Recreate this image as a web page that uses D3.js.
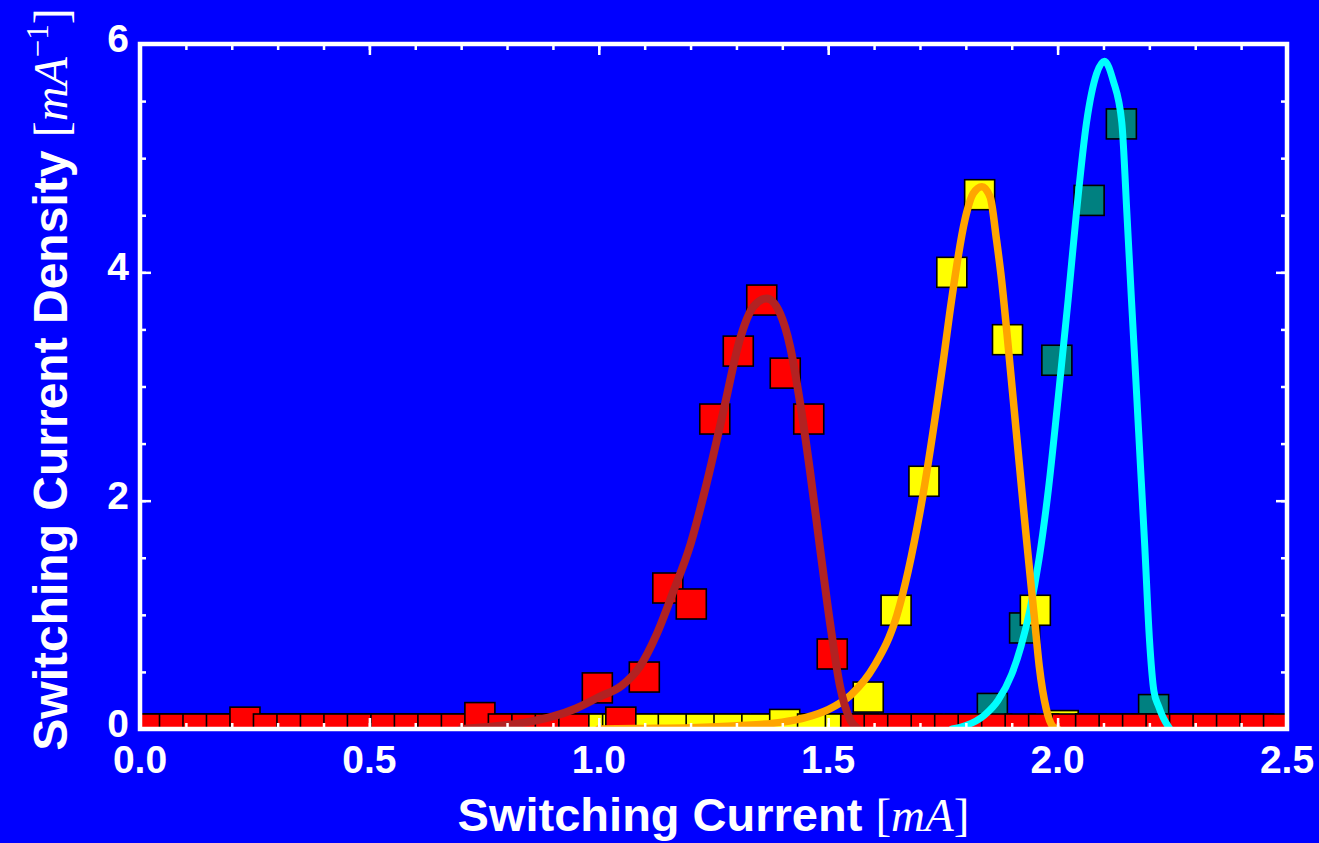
<!DOCTYPE html>
<html>
<head>
<meta charset="utf-8">
<script src="https://cdn.jsdelivr.net/npm/d3@7"></script>
<style>
  html, body { margin: 0; padding: 0; background: #0000ff; }
  svg { display: block; }
</style>
</head>
<body>
<svg id="chart" width="1319" height="843"></svg>
<script>
// Switching-current histograms (densities per bin) for three settings,
// each with its fitted distribution curve.

// Red histogram: bin centres start at redBinStart, spaced redBinWidth [mA]
const redBinStart = 0.024;
const redBinWidth = 0.0512;
const redDensity = [
  0, 0, 0, 0, 0.06, 0, 0, 0, 0, 0,
  0, 0, 0, 0, 0.10, 0, 0, 0, 0, 0.36,
  0.06, 0.455, 1.235, 1.095, 2.715, 3.31, 3.757, 3.117, 2.715, 0.657,
  0, 0, 0, 0, 0, 0, 0, 0, 0, 0,
  0, 0, 0, 0, 0, 0, 0, 0, 0
];

// Yellow histogram
const yellowBinStart = 0.0091;
const yellowBinWidth = 0.0607;
const yellowDensity = [
  0, 0, 0, 0, 0, 0, 0, 0, 0, 0,
  0, 0, 0, 0, 0, 0, 0, 0, 0, 0,
  0, 0, 0, 0.04, 0, 0, 0.28, 1.04, 2.17, 4.0,
  4.68, 3.41, 1.04, 0.03, 0, 0, 0, 0, 0, 0, 0
];

// Teal histogram
const tealBinStart = 0.03;
const tealBinWidth = 0.0703;
const tealDensity = [
  0, 0, 0, 0, 0, 0, 0, 0, 0, 0,
  0, 0, 0, 0, 0, 0, 0, 0, 0, 0,
  0, 0, 0, 0, 0, 0, 0.18, 0.885, 3.23, 4.63,
  5.30, 0.17, 0, 0, 0
];

// Fitted densities
const brownCurveX = [0.70, 0.75, 0.80, 0.85, 0.90, 0.95, 1.00, 1.05, 1.09, 1.125, 1.162, 1.20, 1.235, 1.272, 1.308, 1.337, 1.366, 1.395, 1.417, 1.439, 1.46, 1.482, 1.504, 1.526, 1.548, 1.565];
const brownCurveY = [0.0, 0.015, 0.035, 0.065, 0.11, 0.18, 0.28, 0.38, 0.55, 0.82, 1.20, 1.62, 2.15, 2.79, 3.42, 3.70, 3.77, 3.64, 3.35, 2.85, 2.27, 1.59, 0.93, 0.37, 0.08, 0.0];

const orangeCurveX = [1.00, 1.10, 1.20, 1.30, 1.40, 1.45, 1.50, 1.55, 1.60, 1.65, 1.70, 1.75, 1.769, 1.798, 1.816, 1.835, 1.853, 1.867, 1.878, 1.89, 1.91, 1.93, 1.95, 1.96, 1.975, 1.99, 2.00];
const orangeCurveY = [0.0, 0.005, 0.012, 0.028, 0.06, 0.10, 0.17, 0.30, 0.55, 1.00, 1.90, 3.20, 3.76, 4.46, 4.69, 4.75, 4.66, 4.28, 3.93, 3.45, 2.60, 1.75, 0.95, 0.55, 0.18, 0.02, 0.0];

const cyanCurveX = [1.77, 1.80, 1.84, 1.87, 1.90, 1.92, 1.94, 1.96, 1.98, 2.00, 2.023, 2.041, 2.063, 2.085, 2.102, 2.121, 2.14, 2.151, 2.161, 2.17, 2.18, 2.19, 2.20, 2.21, 2.22, 2.23, 2.245];
const cyanCurveY = [0.0, 0.03, 0.12, 0.25, 0.48, 0.72, 1.05, 1.50, 2.10, 2.85, 3.76, 4.52, 5.31, 5.74, 5.85, 5.68, 5.31, 4.52, 3.76, 3.10, 2.35, 1.60, 0.80, 0.33, 0.20, 0.10, 0.0];

// Axis tick values
const xMajorTicks = [0, 0.5, 1.0, 1.5, 2.0, 2.5];
const xMinorTicks = d3.range(0, 26).map(i => i / 10);
const yMajorTicks = [0, 2, 4, 6];
const yMinorTicks = d3.range(0, 13).map(i => i / 2);

const W = 1319, H = 843;
const plot = { left: 140, right: 1287, top: 44, bottom: 729 };

const x = d3.scaleLinear().domain([0, 2.5]).range([plot.left, plot.right]);
const y = d3.scaleLinear().domain([0, 6]).range([plot.bottom, plot.top]);

const svg = d3.select("#chart");
svg.append("rect").attr("width", W).attr("height", H).attr("fill", "#0000ff");

svg.append("defs").append("clipPath").attr("id", "plotClip")
  .append("rect")
  .attr("x", plot.left).attr("y", plot.top)
  .attr("width", plot.right - plot.left).attr("height", plot.bottom - plot.top);

const g = svg.append("g").attr("clip-path", "url(#plotClip)");

const markerSize = 30;

function bins(start, width, values) {
  return values.map((v, i) => ({ c: start + i * width, v }));
}

function drawSquares(data, fill) {
  g.append("g").selectAll("rect").data(data).join("rect")
    .attr("x", d => x(d.c) - markerSize / 2)
    .attr("y", d => y(d.v) - markerSize / 2)
    .attr("width", markerSize)
    .attr("height", markerSize)
    .attr("fill", fill)
    .attr("stroke", "#000")
    .attr("stroke-width", 1.6);
}

drawSquares(bins(tealBinStart, tealBinWidth, tealDensity), "#008080");
drawSquares(bins(yellowBinStart, yellowBinWidth, yellowDensity), "#ffff00");
drawSquares(bins(redBinStart, redBinWidth, redDensity), "#ff0000");

const line = d3.line().x(d => x(d[0])).y(d => y(d[1])).curve(d3.curveMonotoneX);

function drawCurve(xs, ys, color, width) {
  g.append("path")
    .datum(xs.map((v, i) => [v, ys[i]]))
    .attr("d", line)
    .attr("fill", "none")
    .attr("stroke", color)
    .attr("stroke-width", width)
    .attr("stroke-linecap", "round")
    .attr("stroke-linejoin", "round");
}

drawCurve(cyanCurveX, cyanCurveY, "#00ffff", 7);
drawCurve(orangeCurveX, orangeCurveY, "#ffa500", 7.5);
drawCurve(brownCurveX, brownCurveY, "#b22222", 8);

// Frame ticks, pointing inward on all four sides
const tickStyle = sel => {
  sel.select(".domain").remove();
  sel.selectAll("line").attr("stroke", "#fff").attr("stroke-width", 2.5);
};
const majorLen = 11, minorLen = 6;

svg.append("g").attr("transform", `translate(0,${plot.bottom})`)
  .call(d3.axisBottom(x).tickValues(xMinorTicks).tickSize(-minorLen).tickFormat(""))
  .call(tickStyle);
svg.append("g").attr("transform", `translate(0,${plot.bottom})`)
  .call(d3.axisBottom(x).tickValues(xMajorTicks).tickSize(-majorLen).tickFormat(""))
  .call(tickStyle);
svg.append("g").attr("transform", `translate(0,${plot.top})`)
  .call(d3.axisTop(x).tickValues(xMinorTicks).tickSize(-minorLen).tickFormat(""))
  .call(tickStyle);
svg.append("g").attr("transform", `translate(0,${plot.top})`)
  .call(d3.axisTop(x).tickValues(xMajorTicks).tickSize(-majorLen).tickFormat(""))
  .call(tickStyle);
svg.append("g").attr("transform", `translate(${plot.left},0)`)
  .call(d3.axisLeft(y).tickValues(yMinorTicks).tickSize(-minorLen).tickFormat(""))
  .call(tickStyle);
svg.append("g").attr("transform", `translate(${plot.left},0)`)
  .call(d3.axisLeft(y).tickValues(yMajorTicks).tickSize(-majorLen).tickFormat(""))
  .call(tickStyle);
svg.append("g").attr("transform", `translate(${plot.right},0)`)
  .call(d3.axisRight(y).tickValues(yMinorTicks).tickSize(-minorLen).tickFormat(""))
  .call(tickStyle);
svg.append("g").attr("transform", `translate(${plot.right},0)`)
  .call(d3.axisRight(y).tickValues(yMajorTicks).tickSize(-majorLen).tickFormat(""))
  .call(tickStyle);

// Frame
svg.append("rect")
  .attr("x", plot.left).attr("y", plot.top)
  .attr("width", plot.right - plot.left).attr("height", plot.bottom - plot.top)
  .attr("fill", "none").attr("stroke", "#fff").attr("stroke-width", 4.5);

// Tick labels
const sans = "'Liberation Sans', Arial, Helvetica, sans-serif";
const serif = "'Liberation Serif', 'Times New Roman', serif";

svg.append("g").selectAll("text").data(xMajorTicks).join("text")
  .attr("x", d => x(d)).attr("y", 773)
  .attr("text-anchor", "middle")
  .attr("font-family", sans).attr("font-weight", "bold").attr("font-size", 39)
  .attr("fill", "#fff")
  .text(d => d3.format(".1f")(d));

svg.append("g").selectAll("text").data(yMajorTicks).join("text")
  .attr("x", 129).attr("y", d => y(d) + 8)
  .attr("text-anchor", "end")
  .attr("font-family", sans).attr("font-weight", "bold").attr("font-size", 39)
  .attr("fill", "#fff")
  .text(d => d);

// Axis titles
const xTitle = svg.append("text")
  .attr("x", (plot.left + plot.right) / 2).attr("y", 831)
  .attr("text-anchor", "middle")
  .attr("font-family", sans).attr("font-weight", "bold").attr("font-size", 47)
  .attr("fill", "#fff");
xTitle.append("tspan").text("Switching Current ");
xTitle.append("tspan").attr("font-family", serif).attr("font-weight", "normal").text("[");
xTitle.append("tspan").attr("font-family", serif).attr("font-weight", "normal").attr("font-style", "italic").text("mA");
xTitle.append("tspan").attr("font-family", serif).attr("font-weight", "normal").text("]");

const yTitle = svg.append("text")
  .attr("transform", `translate(67,${(plot.top + plot.bottom) / 2 - 7}) rotate(-90)`)
  .attr("text-anchor", "middle")
  .attr("font-family", sans).attr("font-weight", "bold").attr("font-size", 48)
  .attr("fill", "#fff");
yTitle.append("tspan").text("Switching Current Density ");
yTitle.append("tspan").attr("font-family", serif).attr("font-weight", "normal").text("[");
yTitle.append("tspan").attr("font-family", serif).attr("font-weight", "normal").attr("font-style", "italic").text("mA");
yTitle.append("tspan").attr("font-family", serif).attr("font-weight", "normal").attr("font-size", 31).attr("dy", -19).text("\u22121");
yTitle.append("tspan").attr("font-family", serif).attr("font-weight", "normal").attr("dy", 19).text("]");
</script>
</body>
</html>
